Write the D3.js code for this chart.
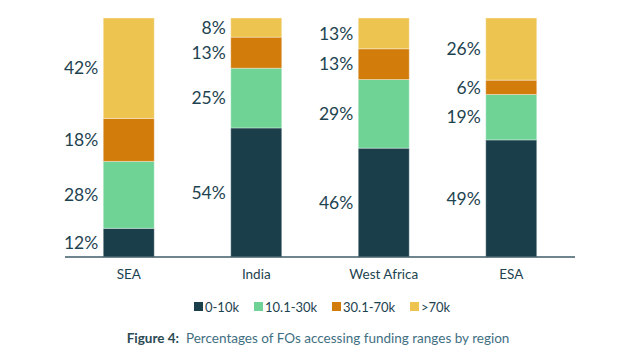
<!DOCTYPE html>
<html>
<head>
<meta charset="utf-8">
<title>Percentages of FOs accessing funding ranges by region</title>
<script src="https://d3js.org/d3.v7.min.js"></script>
<style>
  body { margin: 0; background: #fff; }
  text { font-family: Lato, "Open Sans", sans-serif; }
</style>
</head>
<body>
<div id="chart"></div>
<script>
// data
var regions = ["SEA", "India", "West Africa", "ESA"];
var ranges = ["0-10k", "10.1-30k", "30.1-70k", ">70k"];
var lowValues = [12, 54, 46, 49];
var midValues = [28, 25, 29, 19];
var highValues = [18, 13, 13, 6];
var topValues = [42, 8, 13, 26];
var colors = ["#1b3f4a", "#6fd396", "#d27c0c", "#eec451"];

var W = 627, H = 354;
var margin = { top: 18, left: 65, right: 52, baseline: 257 };

var rows = regions.map(function(r, i) {
    return { region: r, "0-10k": lowValues[i], "10.1-30k": midValues[i],
             "30.1-70k": highValues[i], ">70k": topValues[i] };
});

var svg = d3.select("#chart").append("svg")
    .attr("width", W).attr("height", H);

var x = d3.scaleBand()
    .domain(regions)
    .range([margin.left, W - margin.right])
    .paddingInner(0.6)
    .paddingOuter(0.3);

var y = d3.scaleLinear()
    .domain([0, 1])
    .range([margin.baseline, margin.top]);

var series = d3.stack().keys(ranges).offset(d3.stackOffsetExpand)(rows);
var color = d3.scaleOrdinal().domain(ranges).range(colors);

var groups = svg.selectAll(".series")
    .data(series)
    .enter().append("g")
    .attr("fill", function(d) { return color(d.key); });

groups.selectAll("rect")
    .data(function(d) { return d; })
    .enter().append("rect")
    .attr("x", function(d) { return x(d.data.region); })
    .attr("y", function(d) { return y(d[1]); })
    .attr("width", x.bandwidth())
    .attr("height", function(d) { return y(d[0]) - y(d[1]); })
    .attr("stroke", "#ffffff")
    .attr("stroke-opacity", 0.35)
    .attr("stroke-width", 1);

// value labels to the left of each segment
series.forEach(function(s) {
    svg.selectAll(null)
        .data(s)
        .enter().append("text")
        .attr("x", function(d) { return x(d.data.region) - 5; })
        .attr("y", function(d) { return (y(d[0]) + y(d[1])) / 2; })
        .attr("dy", "0.36em")
        .attr("text-anchor", "end")
        .attr("font-size", "17.5px")
        .attr("fill", "#1e4350")
        .text(function(d) { return d.data[s.key] + "%"; });
});

// x axis
var xAxis = svg.append("g")
    .attr("transform", "translate(0," + margin.baseline + ")")
    .call(d3.axisBottom(x).tickSize(0).tickPadding(12));
xAxis.select(".domain").attr("stroke", "#3f5b66").attr("stroke-width", 1.5)
    .attr("d", "M" + margin.left + ",0H" + (W - margin.right));
xAxis.selectAll("text")
    .attr("font-size", "13.5px")
    .attr("fill", "#1e4350")
    .attr("font-family", "Lato, sans-serif");

// legend
var legendX = [194, 254, 332, 410];
var legend = svg.append("g")
    .selectAll("g")
    .data(ranges)
    .enter().append("g")
    .attr("transform", function(d, i) { return "translate(" + legendX[i] + ",302)"; });
legend.append("rect")
    .attr("width", 9).attr("height", 9)
    .attr("fill", function(d) { return color(d); });
legend.append("text")
    .attr("x", 11).attr("y", 5)
    .attr("dy", "0.36em")
    .attr("font-size", "13px")
    .attr("fill", "#1e4350")
    .text(function(d) { return d; });

// caption
var caption = svg.append("text")
    .attr("x", 318).attr("y", 343)
    .attr("text-anchor", "middle")
    .attr("font-size", "13.5px");
caption.append("tspan")
    .attr("font-weight", "bold")
    .attr("fill", "#2c4a55")
    .text("Figure 4:");
caption.append("tspan")
    .attr("fill", "#3f6f82")
    .text("\u00a0 Percentages of FOs accessing funding ranges by region");
</script>
</body>
</html>
